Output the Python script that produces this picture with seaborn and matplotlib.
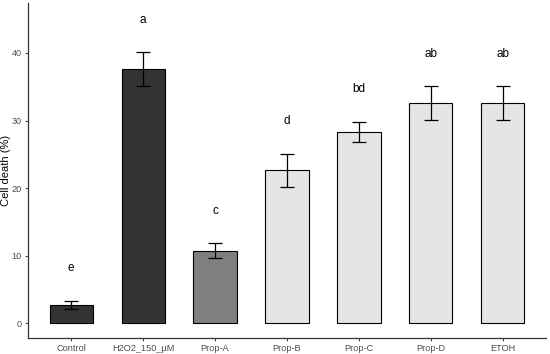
import pandas as pd
import matplotlib
matplotlib.use("Agg")
import matplotlib.pyplot as plt
import seaborn as sns

# treatments and measured values
groups = ['Control', 'H2O2_150_µM', 'Prop-A', 'Prop-B', 'Prop-C', 'Prop-D', 'ETOH']
cell_death = [2.7, 37.6, 10.7, 22.6, 28.3, 32.6, 32.6]
sd = [0.6, 2.5, 1.1, 2.5, 1.5, 2.5, 2.5]
letters = ['e', 'a', 'c', 'd', 'bd', 'ab', 'ab']
fills = ['#333333', '#333333', '#7f7f7f', '#e5e5e5', '#e5e5e5', '#e5e5e5', '#e5e5e5']

df = pd.DataFrame({'group': groups, 'death': cell_death, 'sd': sd})

sns.set_style('ticks')
plt.rcParams['font.family'] = ['Liberation Sans', 'DejaVu Sans']

fig = plt.figure(figsize=(5.5, 3.54), dpi=100)
ax = fig.add_axes([28/550, 16/354, 518/550, 335/354])

sns.barplot(data=df, x='group', y='death', hue='group', palette=fills,
            width=0.6, edgecolor='black', linewidth=0.8, legend=False,
            saturation=1, errorbar=None, ax=ax)

ax.errorbar(range(len(groups)), df['death'], yerr=df['sd'], fmt='none',
            ecolor='black', elinewidth=0.9, capsize=5, capthick=0.9)

# significance letters above each error bar
for i, (m, s, l) in enumerate(zip(cell_death, sd, letters)):
    ax.text(i, m + s + 4.8, l, ha='center', va='center', fontsize=8.5, color='black')

ax.set_xlim(-0.6, 6.6)
ax.set_ylim(-2.2, 47.4)
ax.set_yticks([0, 10, 20, 30, 40])
ax.set_xlabel('')
ax.set_ylabel('Cell death (%)', fontsize=8, color='black')
ax.yaxis.set_label_coords(-0.033, 0.5)
ax.tick_params(axis='both', labelsize=6.6, colors='#4d4d4d', length=2.5, width=0.8,
               labelcolor='#4d4d4d', pad=2)
for side in ['top', 'right']:
    ax.spines[side].set_visible(False)
for side in ['left', 'bottom']:
    ax.spines[side].set_color('#333333')
    ax.spines[side].set_linewidth(0.9)

fig.savefig('out.png', dpi=100)
